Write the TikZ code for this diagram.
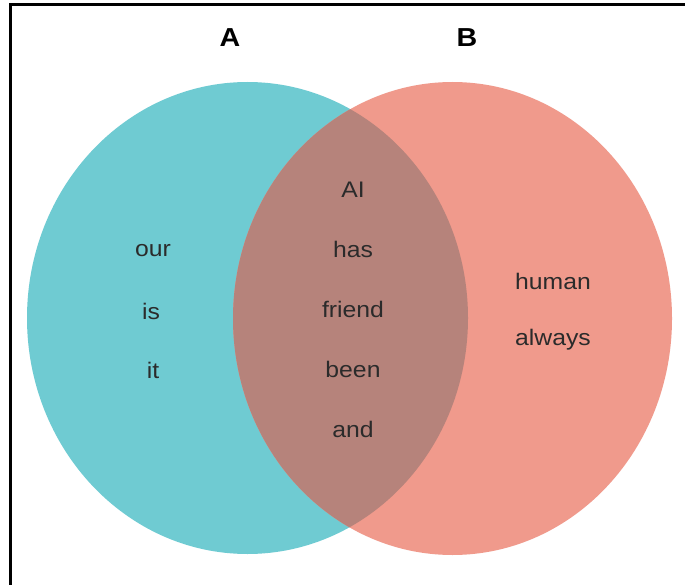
\documentclass[tikz,border=0pt]{standalone}
\usepackage{graphicx}
\usepackage{fontspec}
\setmainfont{Liberation Sans}
\definecolor{tealA}{HTML}{6FCBD2}
\definecolor{salmonB}{HTML}{F09A8C}
\definecolor{overlapAB}{HTML}{B6837B}
\definecolor{txt}{HTML}{2B2B2B}
\newcommand{\wstretch}[1]{\scalebox{1.1}[1]{#1}}
\tikzset{
  word/.style={text=txt, font=\fontsize{22.5}{24}\selectfont, inner sep=0pt, anchor=center},
  setlabel/.style={text=black, font=\fontsize{26}{28}\selectfont\bfseries, inner sep=0pt, anchor=center},
  frame/.style={line width=3pt, black}
}
\begin{document}
\begin{tikzpicture}[x=1pt,y=-1pt]
\useasboundingbox (0,0) rectangle (685,585);
\fill[white] (0,0) rectangle (685,585);
% sets
\fill[tealA] (247.5,318) ellipse [x radius=220.5, y radius=236];
\fill[salmonB] (452.5,318.5) ellipse [x radius=219.5, y radius=236.5];
\begin{scope}
  \clip (247.5,318) ellipse [x radius=220.5, y radius=236];
  \fill[overlapAB] (452.5,318.5) ellipse [x radius=219.5, y radius=236.5];
\end{scope}
% frame
\draw[frame] (10,585) -- (10,5) -- (685,5);
% labels
\node[setlabel] (labA) at (230,38) {\wstretch{A}};
\node[setlabel] (labB) at (467,38) {\wstretch{B}};
% A only
\node[word] (our) at (153,251) {\wstretch{our}};
\node[word] (is) at (151,311) {\wstretch{is}};
\node[word] (it) at (153,370) {\wstretch{it}};
% intersection
\node[word] (ai) at (353,190) {\wstretch{AI}};
\node[word] (has) at (353,249) {\wstretch{has}};
\node[word] (friend) at (353,309) {\wstretch{friend}};
\node[word] (been) at (353,369) {\wstretch{been}};
\node[word] (and) at (353,429) {\wstretch{and}};
% B only
\node[word] (human) at (553,281) {\wstretch{human}};
\node[word] (always) at (553,340) {\wstretch{always}};
\end{tikzpicture}
\end{document}
